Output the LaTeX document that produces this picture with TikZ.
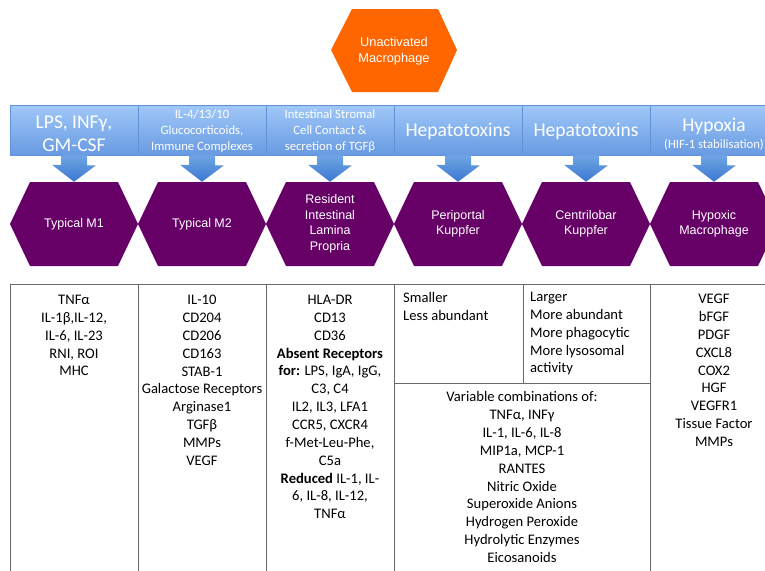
\documentclass[tikz,border=0pt]{standalone}
\usepackage{fontspec}
\setmainfont{Carlito}
\newfontfamily\arialf{Liberation Sans}
\definecolor{hexpurple}{RGB}{102,0,102}
\definecolor{orangeM}{RGB}{255,102,0}
\definecolor{boxtop}{RGB}{160,200,248}
\definecolor{boxbot}{RGB}{104,154,226}
\definecolor{boxline}{RGB}{96,146,214}
\definecolor{arrtop}{RGB}{112,166,230}
\definecolor{arrbot}{RGB}{58,118,204}
\definecolor{gridgray}{RGB}{105,105,105}
\tikzset{
  bluebox/.style={top color=boxtop, bottom color=boxbot, draw=boxline, line width=0.6pt,
    minimum width=128, minimum height=50, inner sep=0},
  causetext/.style={inner sep=0, text=white, align=center},
  bluearrow/.style={top color=arrtop, bottom color=arrbot, draw=none},
  hextext/.style={text=white, font=\arialf\fontsize{12.5}{15.5}\selectfont, align=center, inner sep=0,
    minimum width=128, minimum height=84},
  celltext/.style={font=\fontsize{14.6}{17.85}\selectfont, inner sep=0},
  tableline/.style={draw=gridgray, line width=1pt},
  bigcause/.style={font=\fontsize{19.5}{23}\selectfont},
  smallcause/.style={font=\fontsize{12.7}{16}\selectfont}
}
\begin{document}
\begin{tikzpicture}[x=1pt,y=-1pt]
\useasboundingbox (0,0) rectangle (765,570);
\clip (0,0) rectangle (765,570);
% unactivated macrophage
\fill[orangeM] (331,50) -- (352,9) -- (438,9) -- (457,50) -- (438,92) -- (352,92) -- cycle;
\node[text=white, font=\arialf\fontsize{12.8}{16}\selectfont, align=center, inner sep=0] (unact) at (394,51) {Unactivated\\Macrophage};
% cause boxes
\foreach \i/\cx in {1/74,2/202,3/330,4/458,5/586,6/714}{
  \node[bluebox] (b\i) at (\cx,130) {};
}
\node[causetext, bigcause] (b1t) at (74,133.5) {LPS, INFγ,\\GM-CSF};
\node[causetext, smallcause] (b2t) at (202,131) {IL-4/13/10\\Glucocorticoids,\\Immune Complexes};
\node[causetext, smallcause] (b3t) at (330,131) {Intestinal Stromal\\Cell Contact \&\\secretion of TGFβ};
\node[causetext, bigcause] (b4t) at (458,131.5) {Hepatotoxins};
\node[causetext, bigcause] (b5t) at (586,131.5) {Hepatotoxins};
\node[causetext, font=\fontsize{12.7}{17.6}\selectfont] (b6t) at (714,134) {{\fontsize{19.5}{20}\selectfont Hypoxia}\\(HIF-1 stabilisation)};
% hexagons
\foreach \cx in {74,202,330,458,586,714}{
  \fill[hexpurple] (\cx-64,224) -- (\cx-44,182) -- (\cx+44,182) -- (\cx+64,224) -- (\cx+44,266) -- (\cx-44,266) -- cycle;
}
\node[hextext] (h1) at (74,224) {Typical M1};
\node[hextext] (h2) at (202,224) {Typical M2};
\node[hextext] (h3) at (330,224) {Resident\\Intestinal\\Lamina\\Propria};
\node[hextext] (h4) at (458,224) {Periportal\\Kuppfer};
\node[hextext] (h5) at (586,224) {Centrilobar\\Kuppfer};
\node[hextext] (h6) at (714,224) {Hypoxic\\Macrophage};
% block arrows
\foreach \i in {1,...,6}{
  \shade[bluearrow] (b\i.south) ++(-13,0) -- ++(26,0) -- ++(0,10) -- ++(9,0) -- (h\i.north) -- ++(-22,-17) -- ++(9,0) -- cycle;
}
% table lines
\draw[tableline] (10,580) -- (10,284) -- (780,284);
\foreach \x in {138,266,394,650}{ \draw[tableline] (\x,284) -- (\x,580); }
\draw[tableline] (523,284) -- (523,383);
\draw[tableline] (394,383) -- (650,383);
% table texts
\node[celltext, align=center, anchor=north] (t1) at (74,295) {TNFα\\IL-1β,IL-12,\\IL-6, IL-23\\RNI, ROI\\MHC};
\node[celltext, align=center, anchor=north] (t2) at (202,295) {IL-10\\CD204\\CD206\\CD163\\STAB-1\\Galactose Receptors\\Arginase1\\TGFβ\\MMPs\\VEGF};
\node[celltext, align=center, anchor=north] (t3) at (330,295) {HLA-DR\\CD13\\CD36\\\textbf{Absent Receptors}\\\textbf{for:} LPS, IgA, IgG,\\C3, C4\\IL2, IL3, LFA1\\CCR5, CXCR4\\f-Met-Leu-Phe,\\C5a\\\textbf{Reduced} IL-1, IL-\\6, IL-8, IL-12,\\TNFα};
\node[celltext, align=left, anchor=north west] (t4) at (403,292) {Smaller\\Less abundant};
\node[celltext, align=left, anchor=north west] (t5) at (530,292) {Larger\\More abundant\\More phagocytic\\More lysosomal\\activity};
\node[celltext, align=center, anchor=north] (t45) at (522,391.5) {Variable combinations of:\\TNFα, INFγ\\IL-1, IL-6, IL-8\\MIP1a, MCP-1\\RANTES\\Nitric Oxide\\Superoxide Anions\\Hydrogen Peroxide\\Hydrolytic Enzymes\\Eicosanoids};
\node[celltext, align=center, anchor=north] (t6) at (714,294) {VEGF\\bFGF\\PDGF\\CXCL8\\COX2\\HGF\\VEGFR1\\Tissue Factor\\MMPs};
\end{tikzpicture}
\end{document}
